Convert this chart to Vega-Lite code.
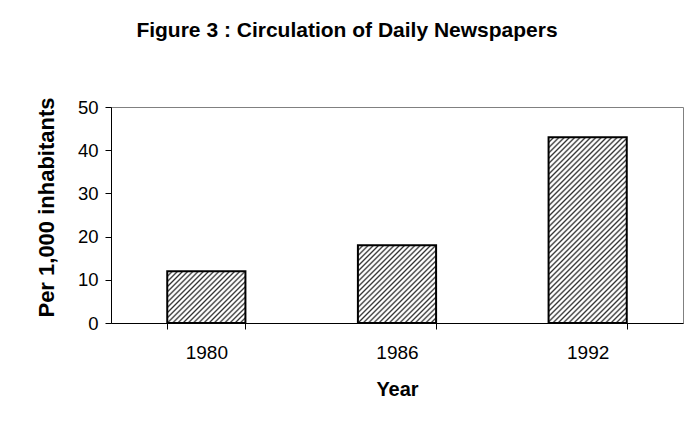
{
  "$schema": "https://vega.github.io/schema/vega-lite/v6.json",
  "autosize": "none",
  "width": 572,
  "height": 216,
  "padding": {"left": 111, "top": 107, "right": 9, "bottom": 104},
  "background": "white",
  "config": {
    "font": "Liberation Sans",
    "view": {"stroke": "#808080", "strokeWidth": 1}
  },
  "title": {
    "text": "Figure 3 : Circulation of Daily Newspapers",
    "font": "Liberation Sans",
    "fontSize": 21,
    "fontWeight": "bold",
    "color": "black",
    "anchor": "middle",
    "frame": "group",
    "dx": -50,
    "offset": 56
  },
  "data": {
    "values": [
      {"year": "1980", "value": 12},
      {"year": "1986", "value": 18},
      {"year": "1992", "value": 43}
    ]
  },
  "mark": {"type": "bar", "stroke": "black", "strokeWidth": 2},
  "encoding": {
    "x": {
      "field": "year",
      "type": "nominal",
      "scale": {"paddingInner": 0.59, "paddingOuter": 0.295},
      "axis": {
        "title": "Year",
        "labelAngle": 0,
        "labelFontSize": 19,
        "labelColor": "black",
        "labelPadding": 14,
        "titleFontSize": 20,
        "titleFontWeight": "bold",
        "titleColor": "black",
        "titlePadding": 17,
        "domainColor": "black",
        "tickColor": "black",
        "tickSize": 6,
        "tickBand": "extent",
        "grid": false
      }
    },
    "y": {
      "field": "value",
      "type": "quantitative",
      "scale": {"domain": [0, 50], "nice": false},
      "axis": {
        "title": "Per 1,000 inhabitants",
        "values": [0, 10, 20, 30, 40, 50],
        "labelFontSize": 18.5,
        "labelColor": "black",
        "labelPadding": 7,
        "titleFontSize": 22,
        "titleFontWeight": "bold",
        "titleColor": "black",
        "titlePadding": 19,
        "titleY": 100,
        "domainColor": "black",
        "tickColor": "black",
        "tickSize": 6,
        "grid": false
      }
    },
    "fill": {
      "condition": [
        {
          "test": "datum.year === '1980'",
          "value": {
            "gradient": "linear", "x1": 0, "y1": 0, "x2": 1.155, "y2": 0.767,
            "stops": [
              {"offset": 0, "color": "#303030"}, {"offset": 0.014, "color": "#ffffff"}, {"offset": 0.026, "color": "#ffffff"},
              {"offset": 0.04, "color": "#303030"}, {"offset": 0.054, "color": "#ffffff"}, {"offset": 0.066, "color": "#ffffff"},
              {"offset": 0.08, "color": "#303030"}, {"offset": 0.094, "color": "#ffffff"}, {"offset": 0.106, "color": "#ffffff"},
              {"offset": 0.12, "color": "#303030"}, {"offset": 0.134, "color": "#ffffff"}, {"offset": 0.146, "color": "#ffffff"},
              {"offset": 0.16, "color": "#303030"}, {"offset": 0.174, "color": "#ffffff"}, {"offset": 0.186, "color": "#ffffff"},
              {"offset": 0.2, "color": "#303030"}, {"offset": 0.214, "color": "#ffffff"}, {"offset": 0.226, "color": "#ffffff"},
              {"offset": 0.24, "color": "#303030"}, {"offset": 0.254, "color": "#ffffff"}, {"offset": 0.266, "color": "#ffffff"},
              {"offset": 0.28, "color": "#303030"}, {"offset": 0.294, "color": "#ffffff"}, {"offset": 0.306, "color": "#ffffff"},
              {"offset": 0.32, "color": "#303030"}, {"offset": 0.334, "color": "#ffffff"}, {"offset": 0.346, "color": "#ffffff"},
              {"offset": 0.36, "color": "#303030"}, {"offset": 0.374, "color": "#ffffff"}, {"offset": 0.386, "color": "#ffffff"},
              {"offset": 0.4, "color": "#303030"}, {"offset": 0.414, "color": "#ffffff"}, {"offset": 0.426, "color": "#ffffff"},
              {"offset": 0.44, "color": "#303030"}, {"offset": 0.454, "color": "#ffffff"}, {"offset": 0.466, "color": "#ffffff"},
              {"offset": 0.48, "color": "#303030"}, {"offset": 0.494, "color": "#ffffff"}, {"offset": 0.506, "color": "#ffffff"},
              {"offset": 0.52, "color": "#303030"}, {"offset": 0.534, "color": "#ffffff"}, {"offset": 0.546, "color": "#ffffff"},
              {"offset": 0.56, "color": "#303030"}, {"offset": 0.574, "color": "#ffffff"}, {"offset": 0.586, "color": "#ffffff"},
              {"offset": 0.6, "color": "#303030"}, {"offset": 0.614, "color": "#ffffff"}, {"offset": 0.626, "color": "#ffffff"},
              {"offset": 0.64, "color": "#303030"}, {"offset": 0.654, "color": "#ffffff"}, {"offset": 0.666, "color": "#ffffff"},
              {"offset": 0.68, "color": "#303030"}, {"offset": 0.694, "color": "#ffffff"}, {"offset": 0.706, "color": "#ffffff"},
              {"offset": 0.72, "color": "#303030"}, {"offset": 0.734, "color": "#ffffff"}, {"offset": 0.746, "color": "#ffffff"},
              {"offset": 0.76, "color": "#303030"}, {"offset": 0.774, "color": "#ffffff"}, {"offset": 0.786, "color": "#ffffff"},
              {"offset": 0.8, "color": "#303030"}, {"offset": 0.814, "color": "#ffffff"}, {"offset": 0.826, "color": "#ffffff"},
              {"offset": 0.84, "color": "#303030"}, {"offset": 0.854, "color": "#ffffff"}, {"offset": 0.866, "color": "#ffffff"},
              {"offset": 0.88, "color": "#303030"}, {"offset": 0.894, "color": "#ffffff"}, {"offset": 0.906, "color": "#ffffff"},
              {"offset": 0.92, "color": "#303030"}, {"offset": 0.934, "color": "#ffffff"}, {"offset": 0.946, "color": "#ffffff"},
              {"offset": 0.96, "color": "#303030"}, {"offset": 0.974, "color": "#ffffff"}, {"offset": 0.986, "color": "#ffffff"},
              {"offset": 1, "color": "#303030"}
            ]
          }
        },
        {
          "test": "datum.year === '1986'",
          "value": {
            "gradient": "linear", "x1": 0, "y1": 0, "x2": 1.001, "y2": 0.999,
            "stops": [
              {"offset": 0, "color": "#303030"}, {"offset": 0.0117, "color": "#ffffff"}, {"offset": 0.0217, "color": "#ffffff"},
              {"offset": 0.0333, "color": "#303030"}, {"offset": 0.045, "color": "#ffffff"}, {"offset": 0.055, "color": "#ffffff"},
              {"offset": 0.0667, "color": "#303030"}, {"offset": 0.0783, "color": "#ffffff"}, {"offset": 0.0883, "color": "#ffffff"},
              {"offset": 0.1, "color": "#303030"}, {"offset": 0.1117, "color": "#ffffff"}, {"offset": 0.1217, "color": "#ffffff"},
              {"offset": 0.1333, "color": "#303030"}, {"offset": 0.145, "color": "#ffffff"}, {"offset": 0.155, "color": "#ffffff"},
              {"offset": 0.1667, "color": "#303030"}, {"offset": 0.1783, "color": "#ffffff"}, {"offset": 0.1883, "color": "#ffffff"},
              {"offset": 0.2, "color": "#303030"}, {"offset": 0.2117, "color": "#ffffff"}, {"offset": 0.2217, "color": "#ffffff"},
              {"offset": 0.2333, "color": "#303030"}, {"offset": 0.245, "color": "#ffffff"}, {"offset": 0.255, "color": "#ffffff"},
              {"offset": 0.2667, "color": "#303030"}, {"offset": 0.2783, "color": "#ffffff"}, {"offset": 0.2883, "color": "#ffffff"},
              {"offset": 0.3, "color": "#303030"}, {"offset": 0.3117, "color": "#ffffff"}, {"offset": 0.3217, "color": "#ffffff"},
              {"offset": 0.3333, "color": "#303030"}, {"offset": 0.345, "color": "#ffffff"}, {"offset": 0.355, "color": "#ffffff"},
              {"offset": 0.3667, "color": "#303030"}, {"offset": 0.3783, "color": "#ffffff"}, {"offset": 0.3883, "color": "#ffffff"},
              {"offset": 0.4, "color": "#303030"}, {"offset": 0.4117, "color": "#ffffff"}, {"offset": 0.4217, "color": "#ffffff"},
              {"offset": 0.4333, "color": "#303030"}, {"offset": 0.445, "color": "#ffffff"}, {"offset": 0.455, "color": "#ffffff"},
              {"offset": 0.4667, "color": "#303030"}, {"offset": 0.4783, "color": "#ffffff"}, {"offset": 0.4883, "color": "#ffffff"},
              {"offset": 0.5, "color": "#303030"}, {"offset": 0.5117, "color": "#ffffff"}, {"offset": 0.5217, "color": "#ffffff"},
              {"offset": 0.5333, "color": "#303030"}, {"offset": 0.545, "color": "#ffffff"}, {"offset": 0.555, "color": "#ffffff"},
              {"offset": 0.5667, "color": "#303030"}, {"offset": 0.5783, "color": "#ffffff"}, {"offset": 0.5883, "color": "#ffffff"},
              {"offset": 0.6, "color": "#303030"}, {"offset": 0.6117, "color": "#ffffff"}, {"offset": 0.6217, "color": "#ffffff"},
              {"offset": 0.6333, "color": "#303030"}, {"offset": 0.645, "color": "#ffffff"}, {"offset": 0.655, "color": "#ffffff"},
              {"offset": 0.6667, "color": "#303030"}, {"offset": 0.6783, "color": "#ffffff"}, {"offset": 0.6883, "color": "#ffffff"},
              {"offset": 0.7, "color": "#303030"}, {"offset": 0.7117, "color": "#ffffff"}, {"offset": 0.7217, "color": "#ffffff"},
              {"offset": 0.7333, "color": "#303030"}, {"offset": 0.745, "color": "#ffffff"}, {"offset": 0.755, "color": "#ffffff"},
              {"offset": 0.7667, "color": "#303030"}, {"offset": 0.7783, "color": "#ffffff"}, {"offset": 0.7883, "color": "#ffffff"},
              {"offset": 0.8, "color": "#303030"}, {"offset": 0.8117, "color": "#ffffff"}, {"offset": 0.8217, "color": "#ffffff"},
              {"offset": 0.8333, "color": "#303030"}, {"offset": 0.845, "color": "#ffffff"}, {"offset": 0.855, "color": "#ffffff"},
              {"offset": 0.8667, "color": "#303030"}, {"offset": 0.8783, "color": "#ffffff"}, {"offset": 0.8883, "color": "#ffffff"},
              {"offset": 0.9, "color": "#303030"}, {"offset": 0.9117, "color": "#ffffff"}, {"offset": 0.9217, "color": "#ffffff"},
              {"offset": 0.9333, "color": "#303030"}, {"offset": 0.945, "color": "#ffffff"}, {"offset": 0.955, "color": "#ffffff"},
              {"offset": 0.9667, "color": "#303030"}, {"offset": 0.9783, "color": "#ffffff"}, {"offset": 0.9883, "color": "#ffffff"},
              {"offset": 1, "color": "#303030"}
            ]
          }
        }
      ],
      "value": {
        "gradient": "linear", "x1": 0, "y1": 0, "x2": 0.507, "y2": 1.207,
        "stops": [
          {"offset": 0, "color": "#303030"}, {"offset": 0.007, "color": "#ffffff"}, {"offset": 0.013, "color": "#ffffff"},
          {"offset": 0.02, "color": "#303030"}, {"offset": 0.027, "color": "#ffffff"}, {"offset": 0.033, "color": "#ffffff"},
          {"offset": 0.04, "color": "#303030"}, {"offset": 0.047, "color": "#ffffff"}, {"offset": 0.053, "color": "#ffffff"},
          {"offset": 0.06, "color": "#303030"}, {"offset": 0.067, "color": "#ffffff"}, {"offset": 0.073, "color": "#ffffff"},
          {"offset": 0.08, "color": "#303030"}, {"offset": 0.087, "color": "#ffffff"}, {"offset": 0.093, "color": "#ffffff"},
          {"offset": 0.1, "color": "#303030"}, {"offset": 0.107, "color": "#ffffff"}, {"offset": 0.113, "color": "#ffffff"},
          {"offset": 0.12, "color": "#303030"}, {"offset": 0.127, "color": "#ffffff"}, {"offset": 0.133, "color": "#ffffff"},
          {"offset": 0.14, "color": "#303030"}, {"offset": 0.147, "color": "#ffffff"}, {"offset": 0.153, "color": "#ffffff"},
          {"offset": 0.16, "color": "#303030"}, {"offset": 0.167, "color": "#ffffff"}, {"offset": 0.173, "color": "#ffffff"},
          {"offset": 0.18, "color": "#303030"}, {"offset": 0.187, "color": "#ffffff"}, {"offset": 0.193, "color": "#ffffff"},
          {"offset": 0.2, "color": "#303030"}, {"offset": 0.207, "color": "#ffffff"}, {"offset": 0.213, "color": "#ffffff"},
          {"offset": 0.22, "color": "#303030"}, {"offset": 0.227, "color": "#ffffff"}, {"offset": 0.233, "color": "#ffffff"},
          {"offset": 0.24, "color": "#303030"}, {"offset": 0.247, "color": "#ffffff"}, {"offset": 0.253, "color": "#ffffff"},
          {"offset": 0.26, "color": "#303030"}, {"offset": 0.267, "color": "#ffffff"}, {"offset": 0.273, "color": "#ffffff"},
          {"offset": 0.28, "color": "#303030"}, {"offset": 0.287, "color": "#ffffff"}, {"offset": 0.293, "color": "#ffffff"},
          {"offset": 0.3, "color": "#303030"}, {"offset": 0.307, "color": "#ffffff"}, {"offset": 0.313, "color": "#ffffff"},
          {"offset": 0.32, "color": "#303030"}, {"offset": 0.327, "color": "#ffffff"}, {"offset": 0.333, "color": "#ffffff"},
          {"offset": 0.34, "color": "#303030"}, {"offset": 0.347, "color": "#ffffff"}, {"offset": 0.353, "color": "#ffffff"},
          {"offset": 0.36, "color": "#303030"}, {"offset": 0.367, "color": "#ffffff"}, {"offset": 0.373, "color": "#ffffff"},
          {"offset": 0.38, "color": "#303030"}, {"offset": 0.387, "color": "#ffffff"}, {"offset": 0.393, "color": "#ffffff"},
          {"offset": 0.4, "color": "#303030"}, {"offset": 0.407, "color": "#ffffff"}, {"offset": 0.413, "color": "#ffffff"},
          {"offset": 0.42, "color": "#303030"}, {"offset": 0.427, "color": "#ffffff"}, {"offset": 0.433, "color": "#ffffff"},
          {"offset": 0.44, "color": "#303030"}, {"offset": 0.447, "color": "#ffffff"}, {"offset": 0.453, "color": "#ffffff"},
          {"offset": 0.46, "color": "#303030"}, {"offset": 0.467, "color": "#ffffff"}, {"offset": 0.473, "color": "#ffffff"},
          {"offset": 0.48, "color": "#303030"}, {"offset": 0.487, "color": "#ffffff"}, {"offset": 0.493, "color": "#ffffff"},
          {"offset": 0.5, "color": "#303030"}, {"offset": 0.507, "color": "#ffffff"}, {"offset": 0.513, "color": "#ffffff"},
          {"offset": 0.52, "color": "#303030"}, {"offset": 0.527, "color": "#ffffff"}, {"offset": 0.533, "color": "#ffffff"},
          {"offset": 0.54, "color": "#303030"}, {"offset": 0.547, "color": "#ffffff"}, {"offset": 0.553, "color": "#ffffff"},
          {"offset": 0.56, "color": "#303030"}, {"offset": 0.567, "color": "#ffffff"}, {"offset": 0.573, "color": "#ffffff"},
          {"offset": 0.58, "color": "#303030"}, {"offset": 0.587, "color": "#ffffff"}, {"offset": 0.593, "color": "#ffffff"},
          {"offset": 0.6, "color": "#303030"}, {"offset": 0.607, "color": "#ffffff"}, {"offset": 0.613, "color": "#ffffff"},
          {"offset": 0.62, "color": "#303030"}, {"offset": 0.627, "color": "#ffffff"}, {"offset": 0.633, "color": "#ffffff"},
          {"offset": 0.64, "color": "#303030"}, {"offset": 0.647, "color": "#ffffff"}, {"offset": 0.653, "color": "#ffffff"},
          {"offset": 0.66, "color": "#303030"}, {"offset": 0.667, "color": "#ffffff"}, {"offset": 0.673, "color": "#ffffff"},
          {"offset": 0.68, "color": "#303030"}, {"offset": 0.687, "color": "#ffffff"}, {"offset": 0.693, "color": "#ffffff"},
          {"offset": 0.7, "color": "#303030"}, {"offset": 0.707, "color": "#ffffff"}, {"offset": 0.713, "color": "#ffffff"},
          {"offset": 0.72, "color": "#303030"}, {"offset": 0.727, "color": "#ffffff"}, {"offset": 0.733, "color": "#ffffff"},
          {"offset": 0.74, "color": "#303030"}, {"offset": 0.747, "color": "#ffffff"}, {"offset": 0.753, "color": "#ffffff"},
          {"offset": 0.76, "color": "#303030"}, {"offset": 0.767, "color": "#ffffff"}, {"offset": 0.773, "color": "#ffffff"},
          {"offset": 0.78, "color": "#303030"}, {"offset": 0.787, "color": "#ffffff"}, {"offset": 0.793, "color": "#ffffff"},
          {"offset": 0.8, "color": "#303030"}, {"offset": 0.807, "color": "#ffffff"}, {"offset": 0.813, "color": "#ffffff"},
          {"offset": 0.82, "color": "#303030"}, {"offset": 0.827, "color": "#ffffff"}, {"offset": 0.833, "color": "#ffffff"},
          {"offset": 0.84, "color": "#303030"}, {"offset": 0.847, "color": "#ffffff"}, {"offset": 0.853, "color": "#ffffff"},
          {"offset": 0.86, "color": "#303030"}, {"offset": 0.867, "color": "#ffffff"}, {"offset": 0.873, "color": "#ffffff"},
          {"offset": 0.88, "color": "#303030"}, {"offset": 0.887, "color": "#ffffff"}, {"offset": 0.893, "color": "#ffffff"},
          {"offset": 0.9, "color": "#303030"}, {"offset": 0.907, "color": "#ffffff"}, {"offset": 0.913, "color": "#ffffff"},
          {"offset": 0.92, "color": "#303030"}, {"offset": 0.927, "color": "#ffffff"}, {"offset": 0.933, "color": "#ffffff"},
          {"offset": 0.94, "color": "#303030"}, {"offset": 0.947, "color": "#ffffff"}, {"offset": 0.953, "color": "#ffffff"},
          {"offset": 0.96, "color": "#303030"}, {"offset": 0.967, "color": "#ffffff"}, {"offset": 0.973, "color": "#ffffff"},
          {"offset": 0.98, "color": "#303030"}, {"offset": 0.987, "color": "#ffffff"}, {"offset": 0.993, "color": "#ffffff"},
          {"offset": 1, "color": "#303030"}
        ]
      }
    }
  }
}
